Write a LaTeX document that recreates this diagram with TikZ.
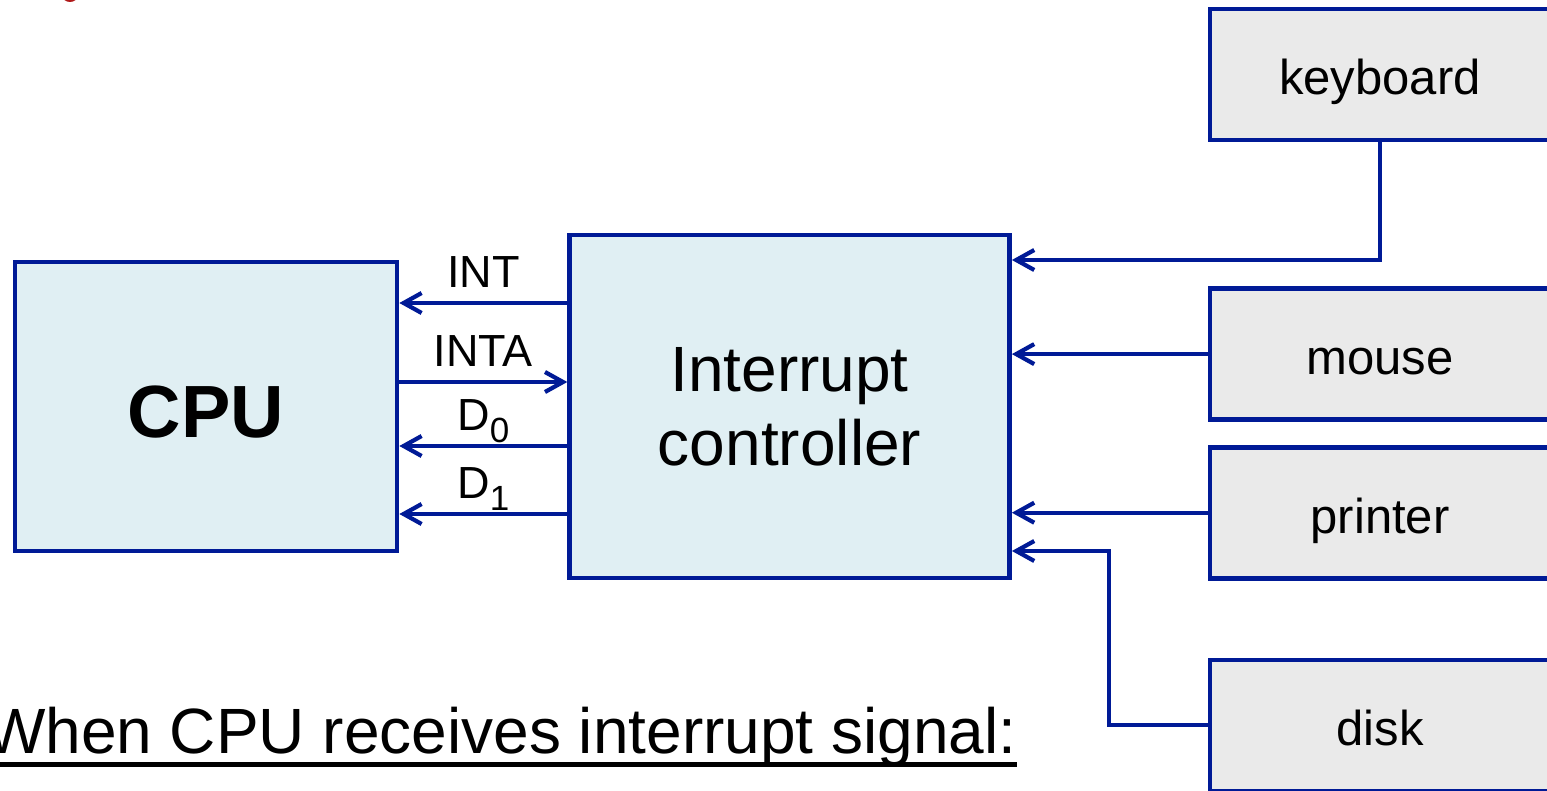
\documentclass[tikz,border=0pt]{standalone}
\usepackage{fontspec}
\setmainfont{Liberation Sans}
\usetikzlibrary{arrows.meta, positioning, calc}
\definecolor{wire}{HTML}{001A96}
\definecolor{chipA}{HTML}{E0EFF3}
\definecolor{devA}{HTML}{EAEAEA}
\definecolor{titleA}{HTML}{B01A1A}
\newcommand{\sigsub}[1]{{\fontsize{17.5}{20}\selectfont\raisebox{-6pt}{#1}}}

\begin{document}
\begin{tikzpicture}[
  x=0.5pt, y=-0.5pt,
  bx/.style  ={draw=wire, line width=2.3pt, align=center, inner sep=0pt},
  chip/.style={bx, fill=chipA},
  dev/.style ={bx, fill=devA, minimum width=170pt, minimum height=65.5pt,
               font=\fontsize{24.5}{28}\selectfont, text height=20.5pt, text depth=0pt},
  arr/.style ={-{Straight Barb[length=9pt,width=10pt]}, line width=2.1pt, draw=wire},
  lbl/.style ={midway, anchor=base, yshift=8pt, inner sep=0pt,
               font=\fontsize{22.5}{26}\selectfont}
]
\useasboundingbox (0,0) rectangle (1547,791);

% cut-off title mark at the top edge
\fill[titleA] (70,-5) ellipse [x radius=8, y radius=7];

\node[chip, minimum width=191pt, minimum height=144.5pt, text height=30.5pt, text depth=0pt,
      font=\fontsize{37}{42}\selectfont\bfseries] (cpu) at (206,406.5) {CPU};
\node[chip, minimum width=220pt, minimum height=171.5pt,
      font=\fontsize{32}{37}\selectfont, right=84pt of cpu] (ctrl) {Interrupt\\controller};

\node[dev] (kbd) at (1380,74.5) {keyboard};
\node[dev, below=72pt of kbd]    (mouse) {mouse};
\node[dev, below=11.5pt of mouse] (prn)   {printer};
\node[dev, below=38.5pt of prn]   (disk)  {disk};

% signals between CPU and controller
\draw[arr] (ctrl.west |- 0,303) -- (cpu.east |- 0,303) node[lbl]{INT};
\draw[arr] (cpu.east |- 0,382) -- (ctrl.west |- 0,382) node[lbl]{INTA};
\draw[arr] (ctrl.west |- 0,446) -- (cpu.east |- 0,446) node[lbl]{D\sigsub{0}};
\draw[arr] (ctrl.west |- 0,514) -- (cpu.east |- 0,514) node[lbl]{D\sigsub{1}};

% interrupt requests from the devices
\draw[arr] (kbd.south) |- (ctrl.east |- 0,260);
\draw[arr] (mouse.west) -- (ctrl.east |- mouse.west);
\draw[arr] (prn.west) -- (ctrl.east |- prn.west);
\draw[arr] (disk.west) -- ++(-99,0) |- (ctrl.east |- 0,551);

\node[anchor=base east, inner sep=0pt, font=\fontsize{32}{36}\selectfont] (when)
  at (1017,753) {When CPU receives interrupt signal:};
\draw[line width=2.5pt] ([yshift=-5.5pt]when.base west) -- ([yshift=-5.5pt]when.base east);
\end{tikzpicture}
\end{document}
